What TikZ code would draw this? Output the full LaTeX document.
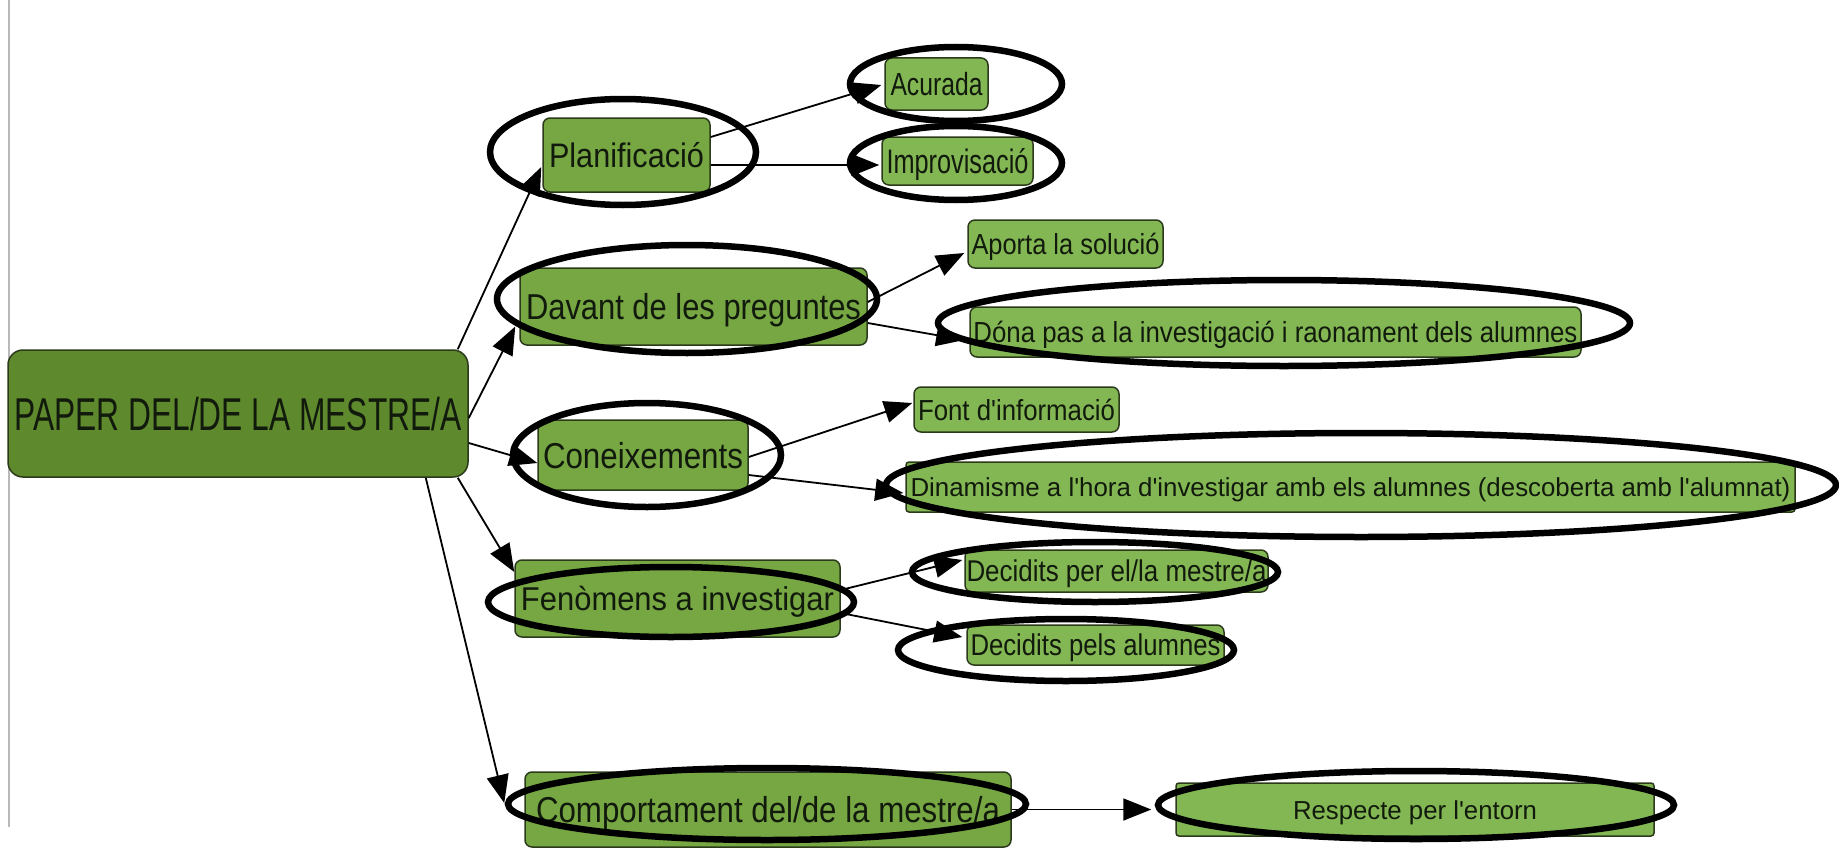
\documentclass[tikz,border=0pt]{standalone}
\usepackage{fontspec}
\setmainfont{Liberation Sans}
% same face without TeX ligatures, so that ' stays a straight apostrophe
\newfontfamily\labfont{Liberation Sans}[Ligatures=TeXOff]
\usetikzlibrary{arrows.meta,calc}
\definecolor{rootfill}{HTML}{5E892D}
\definecolor{midfill}{HTML}{76A742}
\definecolor{leaffill}{HTML}{83B753}
\definecolor{boxline}{HTML}{2A3A1A}
\definecolor{txt}{HTML}{111A0C}
% squeeze a label to a given width, keeping its height
\newcommand\fitw[2]{\resizebox{#1}{\height}{#2}}
\begin{document}
\begin{tikzpicture}[x=1pt,y=-1pt,
  box/.style={draw=boxline, line width=1.5pt, rounded corners=7pt, fill=leaffill,
    inner sep=0pt, text=txt, text depth=0pt, align=center},
  mid/.style={box, fill=midfill},
  tf/.style n args={2}{font=\labfont\fontsize{#1pt}{#1pt}\selectfont, text height=#2pt},
  ring/.style={draw=black, line width=6.5pt},
  link/.style={draw=black, line width=1.8pt, -{Triangle[length=28pt,width=22pt]}}]
\useasboundingbox (0,0) rectangle (1839,867);
\fill[white] (0,0) rectangle (1839,867);
\draw[gray!55, line width=1.5pt] (9,0) -- (9,827);

% root
\node[box, fill=rootfill, rounded corners=15pt, minimum width=460pt, minimum height=127pt, tf={46}{33}]
  (main) at (238,413.5) {\fitw{447pt}{PAPER DEL/DE LA MESTRE/A}};

% second level
\node[mid, minimum width=167pt, minimum height=74pt, tf={34}{24.5}] (plan) at (626.5,155) {\fitw{155pt}{Planificació}};
\node[mid, minimum width=347pt, minimum height=77pt, tf={36}{26}] (davant) at (693.5,306.5) {\fitw{335pt}{Davant de les preguntes}};
\node[mid, minimum width=210pt, minimum height=70pt, tf={36}{26}] (conei) at (643,455) {\fitw{200pt}{Coneixements}};
\node[mid, minimum width=325pt, minimum height=77pt, tf={33}{23.5}] (fenom) at (677.5,598.5) {\fitw{313pt}{Fenòmens a investigar}};
\node[mid, minimum width=486pt, minimum height=75pt, tf={36}{26}] (comport) at (768,809.5) {\fitw{464pt}{Comportament del/de la mestre/a}};

% leaves
\node[box, minimum width=103pt, minimum height=52pt, tf={32}{23}] (acur) at (936.5,84) {\fitw{92pt}{Acurada}};
\node[box, minimum width=151pt, minimum height=48pt, tf={34}{24}] (impr) at (957.5,161) {\fitw{142pt}{Improvisació}};
\node[box, minimum width=195pt, minimum height=48pt, tf={29}{21}] (aporta) at (1065.5,244) {\fitw{188pt}{Aporta la solució}};
\node[box, minimum width=611pt, minimum height=50pt, tf={29}{21}] (dona) at (1275.5,332) {\fitw{604pt}{Dóna pas a la investigació i raonament dels alumnes}};
\node[box, minimum width=205pt, minimum height=45pt, tf={29}{21}] (font) at (1016.5,409.5) {\fitw{197pt}{Font d'informació}};
\node[box, rounded corners=3pt, minimum width=889pt, minimum height=50pt, tf={26}{19}] (dinam) at (1350.5,487) {\fitw{880pt}{Dinamisme a l'hora d'investigar amb els alumnes (descoberta amb l'alumnat)}};
\node[box, minimum width=303pt, minimum height=42pt, tf={30}{21.5}] (decper) at (1116.5,571) {\fitw{300pt}{Decidits per el/la mestre/a}};
\node[box, minimum width=257pt, minimum height=40pt, tf={30}{21.5}] (decpels) at (1095.5,645) {\fitw{250pt}{Decidits pels alumnes}};
\node[box, rounded corners=3pt, minimum width=478pt, minimum height=53pt, tf={26}{19}] (respec) at (1415,809.5) {\fitw{244pt}{Respecte per l'entorn}};

% connectors
\draw[link] ($(main.north east)+(-11,0)$) -- ($(plan.west)+(-1,12)$);
\draw[link] ($(main.east)+(0,4.5)$) -- ($(davant.west)+(-4,20)$);
\draw[link] ($(main.east)+(0,29.5)$) -- ($(conei.west)+(0,8)$);
\draw[link] ($(main.south east)+(-11,0)$) -- ($(fenom.west)+(0,-26.5)$);
\draw[link] ($(main.south east)+(-43,0)$) -- ($(comport.west)+(-20,-6.5)$);
\draw[link] ($(plan.east)+(0,-18)$) -- ($(acur.west)+(-3,1)$);
\draw[link] ($(plan.east)+(0,10)$) -- ($(impr.west)+(-2,4)$);
\draw[link] ($(davant.east)+(0,-4.5)$) -- ($(aporta.west)+(-3,9)$);
\draw[link] ($(davant.east)+(0,16.5)$) -- ($(dona.west)+(-5,8)$);
\draw[link] ($(conei.east)+(0,2)$) -- ($(font.west)+(-1,-6.5)$);
\draw[link] ($(conei.east)+(0,20)$) -- ($(dinam.west)+(-2,6)$);
\draw[link] ($(fenom.east)+(0,-8.5)$) -- ($(decper.west)+(-2,-11)$);
\draw[link] ($(fenom.east)+(0,14.5)$) -- ($(decpels.west)+(-4,-8)$);
\draw[link] (comport.east) -- ($(respec.west)+(-24,0)$);

% highlight rings
\draw[ring] (623,152) ellipse [x radius=133pt, y radius=53pt];
\draw[ring] (956,84) ellipse [x radius=106pt, y radius=37pt];
\draw[ring] (956,163) ellipse [x radius=106pt, y radius=37pt];
\draw[ring] (687,299) ellipse [x radius=190pt, y radius=54pt];
\draw[ring] (1284,323) ellipse [x radius=346pt, y radius=43pt];
\draw[ring] (647,455) ellipse [x radius=134pt, y radius=52pt];
\draw[ring] (1361,485) ellipse [x radius=475pt, y radius=52pt];
\draw[ring] (671,602) ellipse [x radius=183pt, y radius=35pt];
\draw[ring] (1095,572) ellipse [x radius=183pt, y radius=30pt];
\draw[ring] (1066,650) ellipse [x radius=168pt, y radius=31pt];
\draw[ring] (767,804) ellipse [x radius=259pt, y radius=36pt];
\draw[ring] (1416,805) ellipse [x radius=258pt, y radius=34pt];
\end{tikzpicture}
\end{document}
